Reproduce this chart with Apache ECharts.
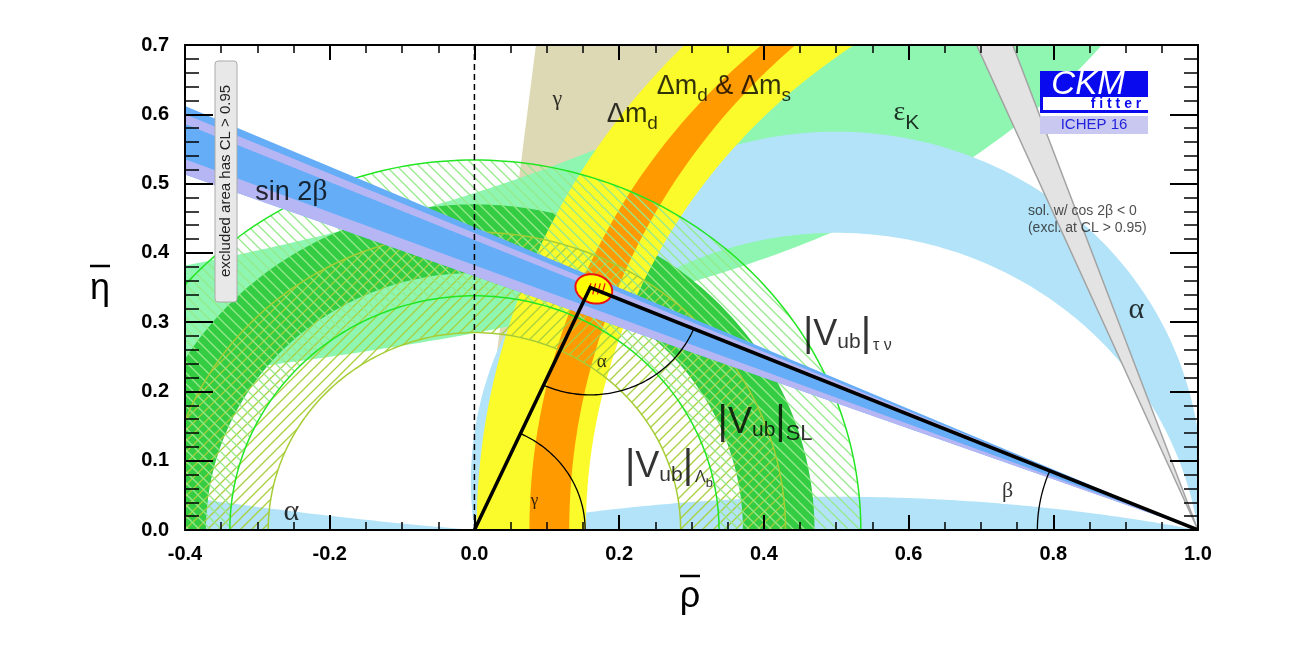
<!DOCTYPE html>
<html>
<head>
<meta charset="utf-8">
<style>
  html, body { margin: 0; background: #fff; }
  #container { width: 1300px; height: 650px; }
</style>
</head>
<body>
<div id="container"></div>
<script src="https://cdn.jsdelivr.net/npm/echarts@6/dist/echarts.min.js"></script>
<script>
// ---- values, in (rho, eta) ----
var xRange = [-0.4, 1.0];
var yRange = [0, 0.7];
var apex = [0.160, 0.350];                       // fitted triangle apex
var fitSpot = [0.165, 0.348, 0.026, 0.0205];     // centre, half widths of the 68% spot
var gammaEdges = [[0.085, 0.70], [0.31, 0.70]];  // gamma wedge edges, through (0,0)
var sin2bOuter = [0.612, 0.513];                 // eta at rho=-0.4, edges through (1,0)
var sin2bStripes = [[0.600, 0.586], [0.535, 0.513]];
var cos2bEdges = [[0.694, 0.70], [0.744, 0.70]]; // excluded cos2b<0 wedge, through (1,0)
var dmdRadii = [0.846, 0.997];                   // around (1,0)
var dmsOuter = [1.0, 0.924];                     // circle centre rho, radius
var dmsInner = [1.071, 0.940];
var vubSL = [0.371, 0.470];                      // around (0,0)
var vubTauNu = [0.338, 0.534];
var vubLb = [0.285, 0.430];
var epsKPole = 1.46;                             // eta*(pole - rho) = k
var epsKk = [0.415, 0.71];
var alphaMain = [0.070, -0.077];                 // centre heights of circles through (0,0),(1,0)
var alphaFlat = -2.58;
var alphaLeft = 5.86;
var gammaArc = 0.153, alphaArcR = 0.155, betaArcR = 0.222;

var notes = [
  { at: [-0.303, 0.487], text: '{r|sin 2}{gr|β}' },
  { at: [0.108, 0.622], text: '{g20|γ}' },
  { at: [0.183, 0.600], text: '{r|Δm}{sub|d}' },
  { at: [0.252, 0.640], text: '{r|Δm}{sub|d}{r| & Δm}{sub|s}' },
  { at: [0.579, 0.603], text: '{g26|ε}{sub2|K}' },
  { at: [0.454, 0.282], text: '{bar||}{v|V}{ub|ub}{bar||}{tiny|τ ν}' },
  { at: [0.336, 0.155], text: '{bar||}{v|V}{ub|ub}{bar||}{sl|SL}' },
  { at: [0.208, 0.091], text: '{bar||}{v|V}{ub|ub}{bar||}{tiny|Λ}{tiny2|b}' },
  { at: [-0.264, 0.026], text: '{g28|α}' },
  { at: [0.904, 0.317], text: '{g28|α}' },
  { at: [0.078, 0.043], text: '{g16|γ}' },
  { at: [0.169, 0.243], text: '{g18|α}' },
  { at: [0.729, 0.056], text: '{g20|β}' },
  { at: [0.765, 0.460], text: '{sm|sol. w/ cos 2β < 0}' },
  { at: [0.765, 0.435], text: '{sm|(excl. at CL > 0.95)}' }
];

// ---- geometry helpers (data space) ----
function arc(cx, cy, r, t0, t1, n) {
  var pts = [];
  for (var i = 0; i <= n; i++) {
    var t = t0 + (t1 - t0) * i / n;
    pts.push([cx + r * Math.cos(t), cy + r * Math.sin(t)]);
  }
  return pts;
}
function ring(c, r) {
  return arc(c[0], c[1], r[1], 0, Math.PI, 160).concat(arc(c[0], c[1], r[0], Math.PI, 0, 160));
}
function ring2(outer, inner) {
  return arc(outer[0], 0, outer[1], 0, Math.PI, 160).concat(arc(inner[0], 0, inner[1], Math.PI, 0, 160));
}
function far(a, p, k) { return [a[0] + k * (p[0] - a[0]), a[1] + k * (p[1] - a[1])]; }
function wedge(a, p1, p2) { return [a, far(a, p1, 4), far(a, p2, 4)]; }
function throughEnds(c) {
  var tR = Math.atan2(-c, 0.5);
  return { r: Math.sqrt(0.25 + c * c), tR: tR, tL: Math.PI - tR };
}
function upperArc(c) { var o = throughEnds(c); return arc(0.5, c, o.r, o.tR, o.tL, 220); }
function epsEdge(k, fwd) {
  var pts = [], end = epsKPole - k / 0.8;
  for (var i = 0; i <= 150; i++) {
    var x = -0.5 + (end + 0.5) * i / 150;
    pts.push([x, k / (epsKPole - x)]);
  }
  return fwd ? pts : pts.reverse();
}
function ellipse(e, tilt) {
  var pts = [];
  for (var i = 0; i < 80; i++) {
    var t = 2 * Math.PI * i / 80, u = e[2] * Math.cos(t), v = e[3] * Math.sin(t);
    pts.push([e[0] + u * Math.cos(tilt) - v * Math.sin(tilt), e[1] + u * Math.sin(tilt) + v * Math.cos(tilt)]);
  }
  return pts;
}

function hatch(color, dir) {
  var s = 11, c = document.createElement('canvas');
  c.width = s; c.height = s;
  var g = c.getContext('2d');
  g.strokeStyle = color; g.lineWidth = 1.3;
  g.beginPath();
  if (dir > 0) {
    g.moveTo(-2, s + 2); g.lineTo(s + 2, -2);
    g.moveTo(-2, 2); g.lineTo(2, -2);
    g.moveTo(s - 2, s + 2); g.lineTo(s + 2, s - 2);
  } else {
    g.moveTo(-2, -2); g.lineTo(s + 2, s + 2);
    g.moveTo(s - 2, -2); g.lineTo(s + 2, 2);
    g.moveTo(-2, s - 2); g.lineTo(2, s + 2);
  }
  g.stroke();
  return { image: c, repeat: 'repeat' };
}

function layer(build) {
  return {
    type: 'custom', coordinateSystem: 'cartesian2d', clip: true, silent: true,
    data: [[0, 0]],
    renderItem: function (params, api) {
      return {
        type: 'group',
        children: build().map(function (s) {
          return {
            type: s.type || 'polygon',
            shape: { points: s.pts.map(function (p) { return api.coord(p); }) },
            style: s.style
          };
        })
      };
    }
  };
}
function fill(c) { return { fill: c, stroke: null }; }
function line(c, w, dash) { return { fill: null, stroke: c, lineWidth: w, lineDash: dash || null }; }

var O = [0, 0], B = [1, 0];
var hatchLb = hatch('#a9cf3d', 1);
var hatchTau = hatch('#96ea8c', -1);

var series = [
  layer(function () { return [{ pts: wedge(O, gammaEdges[0], gammaEdges[1]), style: fill('#ddd9b5') }]; }),
  layer(function () { return [{ pts: epsEdge(epsKk[0], true).concat(epsEdge(epsKk[1], false)), style: fill('#8ef6b0') }]; }),
  layer(function () {
    var left = throughEnds(alphaLeft);
    var lp = arc(0.5, alphaLeft, left.r, left.tL, left.tL - 0.11, 60);
    lp.push([lp[lp.length - 1][0], 0]);
    return [
      { pts: upperArc(alphaMain[0]).concat(upperArc(alphaMain[1]).reverse()), style: fill('#b2e3f8') },
      { pts: upperArc(alphaFlat), style: fill('#b2e3f8') },
      { pts: [O].concat(lp), style: fill('#b2e3f8') }
    ];
  }),
  layer(function () {
    return [
      { pts: wedge(B, cos2bEdges[0], cos2bEdges[1]), style: fill('#e3e3e3') },
      { type: 'polyline', pts: [far(B, cos2bEdges[0], 2), B, far(B, cos2bEdges[1], 2)], style: line('#a3a3a3', 1.5) }
    ];
  }),
  layer(function () { return [{ pts: ring(O, vubSL), style: fill('#34cc42') }]; }),
  layer(function () {
    return [
      { pts: ring(B, dmdRadii), style: fill('#fbfb2c') },
      { pts: ring2(dmsOuter, dmsInner), style: fill('#ff9a00') }
    ];
  }),
  layer(function () {
    return [
      { pts: ring(O, vubLb), style: fill(hatchLb) },
      { pts: ring(O, vubTauNu), style: fill(hatchTau) },
      { type: 'polyline', pts: arc(0, 0, vubLb[0], 0, Math.PI, 160), style: line('#a6cd36', 1.5) },
      { type: 'polyline', pts: arc(0, 0, vubLb[1], 0, Math.PI, 160), style: line('#a6cd36', 1.5) },
      { type: 'polyline', pts: arc(0, 0, vubTauNu[0], 0, Math.PI, 160), style: line('#22e622', 1.5) },
      { type: 'polyline', pts: arc(0, 0, vubTauNu[1], 0, Math.PI, 160), style: line('#22e622', 1.5) }
    ];
  }),
  layer(function () {
    var out = [{ pts: [B, far(B, [-0.4, sin2bOuter[0]], 1.5), far(B, [-0.4, sin2bOuter[1]], 1.5)], style: fill('#66adf8') }];
    sin2bStripes.forEach(function (s) {
      out.push({ pts: [B, far(B, [-0.4, s[0]], 1.5), far(B, [-0.4, s[1]], 1.5)], style: fill('#b6b6f4') });
    });
    return out;
  }),
  layer(function () {
    var out = [
      { type: 'polyline', pts: [[0, yRange[0]], [0, yRange[1]]], style: line('#000', 1.5, [6, 4]) },
      { pts: ellipse(fitSpot, -0.35), style: { fill: '#ffff00', stroke: '#ee1111', lineWidth: 2 } }
    ];
    // short red hatch strokes inside the spot
    for (var i = 0; i < 4; i++) {
      var x0 = fitSpot[0] - 0.008 + i * 0.0065;
      out.push({ type: 'polyline', pts: [[x0, fitSpot[1] - 0.008], [x0 + 0.004, fitSpot[1] + 0.008]], style: line('#ee1111', 1.3) });
    }
    out.push(
      { type: 'polyline', pts: [O, apex, B], style: line('#000', 3.5) },
      { type: 'polyline', pts: arc(0, 0, gammaArc, 0, Math.atan2(apex[1], apex[0]), 60), style: line('#000', 1.3) },
      { type: 'polyline', pts: arc(apex[0], apex[1], alphaArcR, Math.atan2(-apex[1], -apex[0]), Math.atan2(-apex[1], 1 - apex[0]), 80), style: line('#000', 1.3) },
      { type: 'polyline', pts: arc(1, 0, betaArcR, Math.atan2(apex[1], apex[0] - 1), Math.PI, 40), style: line('#000', 1.3) }
    );
    return out;
  }),
  {
    type: 'scatter', symbolSize: 0, silent: true, z: 20,
    data: notes.map(function (n) { return { value: n.at, label: { formatter: n.text } }; }),
    label: {
      show: true, position: [0, 0], align: 'left', verticalAlign: 'middle', color: '#000',
      rich: {
        r: { fontSize: 27, fontFamily: 'Liberation Sans', color: '#000' },
        gr: { fontSize: 30, fontFamily: 'Liberation Serif', color: '#000' },
        sub: { fontSize: 19, fontFamily: 'Liberation Sans', color: '#000', padding: [18, 0, 0, 0] },
        sub2: { fontSize: 21, fontFamily: 'Liberation Sans', color: '#000', padding: [22, 0, 0, 0] },
        g16: { fontSize: 17, fontFamily: 'Liberation Serif', color: '#000' },
        g18: { fontSize: 19, fontFamily: 'Liberation Serif', color: '#000' },
        g20: { fontSize: 22, fontFamily: 'Liberation Serif', color: '#000' },
        g26: { fontSize: 28, fontFamily: 'Liberation Serif', color: '#000' },
        g28: { fontSize: 30, fontFamily: 'Liberation Serif', color: '#000' },
        bar: { fontSize: 40, fontFamily: 'Liberation Sans', color: '#000' },
        v: { fontSize: 36, fontFamily: 'Liberation Sans', color: '#000' },
        ub: { fontSize: 21, fontFamily: 'Liberation Sans', color: '#000', padding: [16, 0, 0, 0] },
        sl: { fontSize: 22, fontFamily: 'Liberation Sans', color: '#000', padding: [22, 0, 0, 0] },
        tiny: { fontSize: 16, fontFamily: 'Liberation Sans', color: '#000', padding: [22, 0, 0, 2] },
        tiny2: { fontSize: 13, fontFamily: 'Liberation Sans', color: '#000', padding: [32, 0, 0, 0] },
        sm: { fontSize: 14, fontFamily: 'Liberation Sans', color: '#222' }
      }
    }
  }
];

function xAxis(pos) {
  return {
    type: 'value', position: pos, min: xRange[0], max: xRange[1], interval: 0.2, z: 10,
    axisLine: { onZero: false, lineStyle: { color: '#000', width: 2 } },
    axisTick: { inside: true, length: 15, lineStyle: { color: '#000', width: 2 } },
    minorTick: { show: true, splitNumber: 4, length: 8, lineStyle: { color: '#000', width: 1.5 } },
    splitLine: { show: false },
    axisLabel: {
      show: pos === 'bottom', margin: 14, color: '#000', fontSize: 20, fontWeight: 'bold',
      fontFamily: 'Liberation Sans', formatter: function (v) { return v.toFixed(1); }
    }
  };
}
function yAxis(pos) {
  return {
    type: 'value', position: pos, min: yRange[0], max: yRange[1], interval: 0.1, z: 10,
    axisLine: { onZero: false, lineStyle: { color: '#000', width: 2 } },
    axisTick: { inside: true, length: 28, lineStyle: { color: '#000', width: 2 } },
    minorTick: { show: true, splitNumber: 5, length: 14, lineStyle: { color: '#000', width: 1.5 } },
    splitLine: { show: false },
    axisLabel: {
      show: pos === 'left', margin: 16, color: '#000', fontSize: 20, fontWeight: 'bold',
      fontFamily: 'Liberation Sans', formatter: function (v) { return v.toFixed(1); }
    }
  };
}

var chart = echarts.init(document.getElementById('container'), null, { renderer: 'canvas' });
chart.setOption({
  backgroundColor: '#fff',
  animation: false,
  grid: { left: 185, right: 102, top: 45, bottom: 120 },
  xAxis: [xAxis('bottom'), xAxis('top')],
  yAxis: [yAxis('left'), yAxis('right')],
  series: series,
  graphic: [
    { type: 'rect', shape: { x: 215, y: 61, width: 22, height: 241, r: 3 }, style: { fill: '#e8e8e8', stroke: '#aaa', lineWidth: 1 }, z: 30 },
    { type: 'text', x: 226, y: 181, rotation: Math.PI / 2, z: 31,
      style: { text: 'excluded area has CL > 0.95', font: '15px "Liberation Sans"', fill: '#222', align: 'center', verticalAlign: 'middle' } },
    { type: 'rect', shape: { x: 1040, y: 71, width: 108, height: 42 }, style: { fill: '#0a0aee' }, z: 30 },
    { type: 'rect', shape: { x: 1043, y: 97, width: 105, height: 13 }, style: { fill: '#fff' }, z: 31 },
    { type: 'text', x: 1088, y: 85, z: 32,
      style: { text: 'CKM', font: 'italic 33px "Liberation Sans"', fill: '#fff', align: 'center', verticalAlign: 'middle' } },
    { type: 'text', x: 1116, y: 104, z: 32,
      style: { text: 'f i t t e r', font: 'bold 14px "Liberation Sans"', fill: '#0a0aee', align: 'center', verticalAlign: 'middle' } },
    { type: 'rect', shape: { x: 1040, y: 116, width: 108, height: 18 }, style: { fill: '#c8c8f0' }, z: 30 },
    { type: 'text', x: 1094, y: 125, z: 32,
      style: { text: 'ICHEP 16', font: '15px "Liberation Sans"', fill: '#2323dd', align: 'center', verticalAlign: 'middle' } },
    { type: 'text', x: 100, y: 289, z: 30,
      style: { text: 'η', font: '36px "Liberation Sans"', fill: '#000', align: 'center', verticalAlign: 'middle' } },
    { type: 'line', shape: { x1: 90, y1: 266, x2: 110, y2: 266 }, style: { stroke: '#000', lineWidth: 2.5 }, z: 30 },
    { type: 'text', x: 690, y: 597, z: 30,
      style: { text: 'ρ', font: '36px "Liberation Sans"', fill: '#000', align: 'center', verticalAlign: 'middle' } },
    { type: 'line', shape: { x1: 680, y1: 576, x2: 700, y2: 576 }, style: { stroke: '#000', lineWidth: 2.5 }, z: 30 }
  ]
});
window.addEventListener('resize', chart.resize);
</script>
</body>
</html>
